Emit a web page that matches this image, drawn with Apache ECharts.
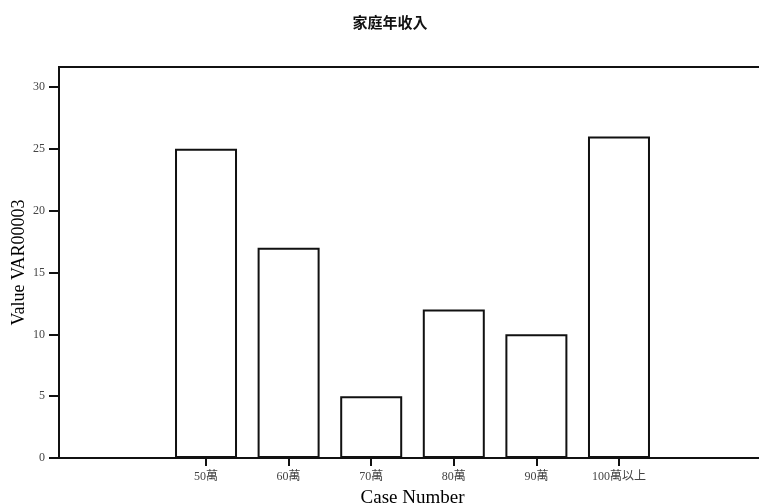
<!DOCTYPE html>
<html>
<head>
<meta charset="utf-8">
<script src="https://cdn.jsdelivr.net/npm/echarts@6/dist/echarts.min.js"></script>
<style>html,body{margin:0;padding:0;background:#fff;}#c{width:759px;height:504px;}</style>
</head>
<body>
<div id="c"></div>
<script>
const titleText = "家庭年收入";
const categories = ["50萬", "60萬", "70萬", "80萬", "90萬", "100萬以上"];
const values = [25, 17, 5, 12, 10, 26];
const yTicks = [0, 5, 10, 15, 20, 25, 30];
const xAxisName = "Case Number";
const yAxisName = "Value VAR00003";

const positions = categories.map((c, i) => i + 1);
const serif = '"Liberation Serif", "Times New Roman", "Noto Sans CJK TC", serif';

const chart = echarts.init(document.getElementById('c'));
chart.setOption({
  animation: false,
  backgroundColor: '#fff',
  title: {
    text: titleText,
    left: 385,
    top: 10,
    textAlign: 'center',
    textStyle: { fontFamily: '"Noto Sans CJK TC", sans-serif', fontWeight: 'bold', fontSize: 15, color: '#111' }
  },
  grid: {
    left: 59, top: 67, width: 707, height: 391,
    outerBoundsMode: 'none', containLabel: false,
    show: true, borderColor: '#111', borderWidth: 2, backgroundColor: 'transparent'
  },
  xAxis: {
    type: 'value',
    min: -0.78, max: 7.78,
    splitLine: { show: false },
    axisLine: { show: true, onZero: false, lineStyle: { color: '#111', width: 2 } },
    axisTick: { show: true, customValues: positions, length: 8, lineStyle: { color: '#111', width: 2 } },
    axisLabel: {
      customValues: positions,
      formatter: v => categories[Math.round(v) - 1] || '',
      fontFamily: serif, fontSize: 12, color: '#444', margin: 13
    },
    name: xAxisName,
    nameLocation: 'middle',
    nameGap: 31,
    nameMoveOverlap: false,
    nameTextStyle: { fontFamily: serif, fontSize: 19, color: '#000' }
  },
  yAxis: {
    type: 'value',
    min: 0, max: 31.62,
    splitLine: { show: false },
    axisLine: { show: true, onZero: false, lineStyle: { color: '#111', width: 2 } },
    axisTick: { show: true, customValues: yTicks, length: 10, lineStyle: { color: '#111', width: 2 } },
    axisLabel: {
      customValues: yTicks,
      fontFamily: serif, fontSize: 12, color: '#444', margin: 14
    },
    name: yAxisName,
    nameLocation: 'middle',
    nameGap: 31,
    nameRotate: 90,
    nameMoveOverlap: false,
    nameTextStyle: { fontFamily: serif, fontSize: 18, color: '#000' }
  },
  series: [{
    type: 'bar',
    data: values.map((v, i) => [positions[i], v]),
    barWidth: 62,
    itemStyle: { color: '#fff', borderColor: '#111', borderWidth: 2 }
  }]
});
</script>
</body>
</html>
